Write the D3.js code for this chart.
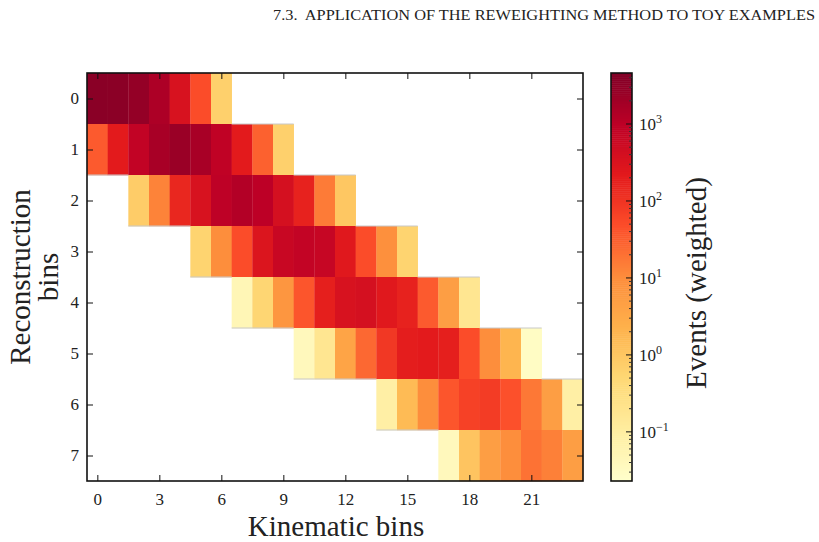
<!DOCTYPE html>
<html>
<head>
<meta charset="utf-8">
<script src="https://cdn.jsdelivr.net/npm/d3@7"></script>
<style>
  body { margin: 0; background: #fff; }
  svg { display: block; }
  text { font-family: "Liberation Serif", "DejaVu Serif", serif; fill: #222; }
</style>
</head>
<body>
<svg id="chart" width="819" height="542"></svg>
<script>
// ---- data ----
const header = "7.3.  APPLICATION OF THE REWEIGHTING METHOD TO TOY EXAMPLES";
const xLabel = "Kinematic bins";
const yLabelLines = ["Reconstruction", "bins"];
const cbLabel = "Events (weighted)";
const nKin = 24;
const nReco = 8;
const xTicks = [0, 3, 6, 9, 12, 15, 18, 21];
const yTicks = [0, 1, 2, 3, 4, 5, 6, 7];
const cbDecades = [-1, 0, 1, 2, 3];
const colorMin = 0.023, colorMax = 4600;
// first filled kinematic bin of each reconstruction row
const rowStart = [0, 0, 2, 5, 7, 10, 14, 17];
// weighted events per row, starting at rowStart
const row0 = [3600, 3500, 2800, 1500, 350, 50, 0.7];
const row1 = [35, 220, 830, 1700, 2400, 1700, 900, 220, 30, 0.7];
const row2 = [0.8, 13, 150, 350, 950, 1300, 1000, 400, 170, 16, 1.0];
const row3 = [0.6, 10, 50, 300, 650, 800, 700, 250, 50, 9, 0.6];
const row4 = [0.05, 0.55, 7, 40, 190, 350, 400, 250, 170, 35, 5, 0.18];
const row5 = [0.04, 0.18, 4, 25, 90, 200, 220, 190, 50, 10, 2, 0.03];
const row6 = [0.09, 1.6, 10, 40, 70, 80, 45, 17, 5, 0.09];
const row7 = [0.04, 1.1, 5, 10, 20, 14, 5];
const rows = [row0, row1, row2, row3, row4, row5, row6, row7];
// matplotlib YlOrRd
const ylOrRd = ["#ffffcc","#ffeda0","#fed976","#feb24c","#fd8d3c","#fc4e2a","#e31a1c","#bd0026","#800026"];

// ---- layout ----
const svg = d3.select("#chart");
const m = { left: 87, right: 583, top: 73, bottom: 481 };
const cb = { left: 611, right: 632, top: 73, bottom: 481 };

const x = d3.scaleLinear().domain([-0.5, nKin - 0.5]).range([m.left, m.right]);
const y = d3.scaleLinear().domain([-0.5, nReco - 0.5]).range([m.top, m.bottom]);
const tNorm = d3.scaleLog().domain([colorMin, colorMax]).range([0, 1]).clamp(true);
const cmap = d3.scaleLinear().domain(d3.range(9).map(i => i / 8)).range(ylOrRd).interpolate(d3.interpolateRgb);
const color = v => cmap(tNorm(v));

// cells
const cells = [];
rows.forEach((vals, r) => vals.forEach((v, k) => cells.push({ r, c: rowStart[r] + k, v })));
const filled = new Set(cells.map(d => d.r + "," + d.c));

svg.append("g").selectAll("rect").data(cells).join("rect")
  .attr("x", d => x(d.c - 0.5))
  .attr("y", d => y(d.r - 0.5))
  .attr("width", d => x(d.c + 0.5) - x(d.c - 0.5) + 0.3)
  .attr("height", d => y(d.r + 0.5) - y(d.r - 0.5) + 0.3)
  .attr("fill", d => color(d.v));

// faint edges where a filled cell meets an empty one vertically
const edges = [];
cells.forEach(d => {
  if (d.r > 0 && !filled.has((d.r - 1) + "," + d.c)) edges.push({ c: d.c, yv: d.r - 0.5 });
  if (d.r < nReco - 1 && !filled.has((d.r + 1) + "," + d.c)) edges.push({ c: d.c, yv: d.r + 0.5 });
});
svg.append("g").selectAll("line").data(edges).join("line")
  .attr("x1", d => x(d.c - 0.5)).attr("x2", d => x(d.c + 0.5))
  .attr("y1", d => y(d.yv)).attr("y2", d => y(d.yv))
  .attr("stroke", "#c8c8c8").attr("stroke-width", 1);

// frame
svg.append("rect").attr("x", m.left).attr("y", m.top)
  .attr("width", m.right - m.left).attr("height", m.bottom - m.top)
  .attr("fill", "none").attr("stroke", "#111").attr("stroke-width", 1.6);

// axes with inward ticks
const tickLen = 6;
const gx = svg.append("g").attr("transform", `translate(0,${m.bottom})`)
  .call(d3.axisBottom(x).tickValues(xTicks).tickSizeInner(-tickLen).tickSizeOuter(0).tickPadding(12));
const gxt = svg.append("g").attr("transform", `translate(0,${m.top})`)
  .call(d3.axisTop(x).tickValues(xTicks).tickSizeInner(-tickLen).tickSizeOuter(0).tickFormat(""));
const gy = svg.append("g").attr("transform", `translate(${m.left},0)`)
  .call(d3.axisLeft(y).tickValues(yTicks).tickSizeInner(-tickLen).tickSizeOuter(0).tickPadding(8));
const gyr = svg.append("g").attr("transform", `translate(${m.right},0)`)
  .call(d3.axisRight(y).tickValues(yTicks).tickSizeInner(-tickLen).tickSizeOuter(0).tickFormat(""));
[gx, gxt, gy, gyr].forEach(g => {
  g.select(".domain").remove();
  g.selectAll(".tick line").attr("stroke", "#111").attr("stroke-width", 1);
  g.selectAll(".tick text").attr("font-family", "Liberation Serif").attr("font-size", 17).attr("fill", "#222");
});

// axis titles
svg.append("text").attr("x", 336).attr("y", 536).attr("text-anchor", "middle")
  .attr("font-size", 29).text(xLabel);
const yl = svg.append("text").attr("transform", "translate(0,277) rotate(-90)")
  .attr("text-anchor", "middle").attr("font-size", 29);
yl.append("tspan").attr("x", 0).attr("y", 30).text(yLabelLines[0]);
yl.append("tspan").attr("x", 0).attr("y", 58).text(yLabelLines[1]);

// header
svg.append("text").attr("x", 815).attr("y", 20).attr("text-anchor", "end")
  .attr("font-size", 14.5).attr("textLength", 542).attr("lengthAdjust", "spacingAndGlyphs")
  .style("white-space", "pre").text(header);

// colorbar
const cbY = d3.scaleLog().domain([colorMin, colorMax]).range([cb.bottom, cb.top]);
const nSteps = 200;
const steps = d3.range(nSteps).map(i => i);
const lmin = Math.log10(colorMin), lmax = Math.log10(colorMax);
svg.append("g").selectAll("rect").data(steps).join("rect")
  .attr("x", cb.left)
  .attr("width", cb.right - cb.left)
  .attr("y", i => cbY(Math.pow(10, lmin + (i + 1) * (lmax - lmin) / nSteps)))
  .attr("height", i => cbY(Math.pow(10, lmin + i * (lmax - lmin) / nSteps)) - cbY(Math.pow(10, lmin + (i + 1) * (lmax - lmin) / nSteps)) + 0.5)
  .attr("fill", i => cmap((i + 0.5) / nSteps));
svg.append("rect").attr("x", cb.left).attr("y", cb.top)
  .attr("width", cb.right - cb.left).attr("height", cb.bottom - cb.top)
  .attr("fill", "none").attr("stroke", "#111").attr("stroke-width", 1.6);

// colorbar ticks (major + minor), drawn inward from right edge
const minor = [];
for (let dcd = -2; dcd <= 3; dcd++) for (let k = 2; k <= 9; k++) {
  const v = k * Math.pow(10, dcd);
  if (v > colorMin && v < colorMax) minor.push(v);
}
svg.append("g").selectAll("line").data(minor).join("line")
  .attr("x1", cb.right - 3).attr("x2", cb.right)
  .attr("y1", d => cbY(d)).attr("y2", d => cbY(d))
  .attr("stroke", "#333").attr("stroke-width", 1);
svg.append("g").selectAll("line").data(cbDecades).join("line")
  .attr("x1", cb.right - 6).attr("x2", cb.right)
  .attr("y1", d => cbY(Math.pow(10, d))).attr("y2", d => cbY(Math.pow(10, d)))
  .attr("stroke", "#111").attr("stroke-width", 1);
const cbt = svg.append("g").selectAll("text").data(cbDecades).join("text")
  .attr("x", cb.right + 7).attr("y", d => cbY(Math.pow(10, d)) + 6)
  .attr("font-size", 17);
cbt.append("tspan").text("10");
cbt.append("tspan").attr("dy", -7).attr("font-size", 12).text(d => d < 0 ? "\u2212" + (-d) : d);

svg.append("text").attr("transform", "translate(706,283) rotate(-90)")
  .attr("text-anchor", "middle").attr("font-size", 29).text(cbLabel);
</script>
</body>
</html>
